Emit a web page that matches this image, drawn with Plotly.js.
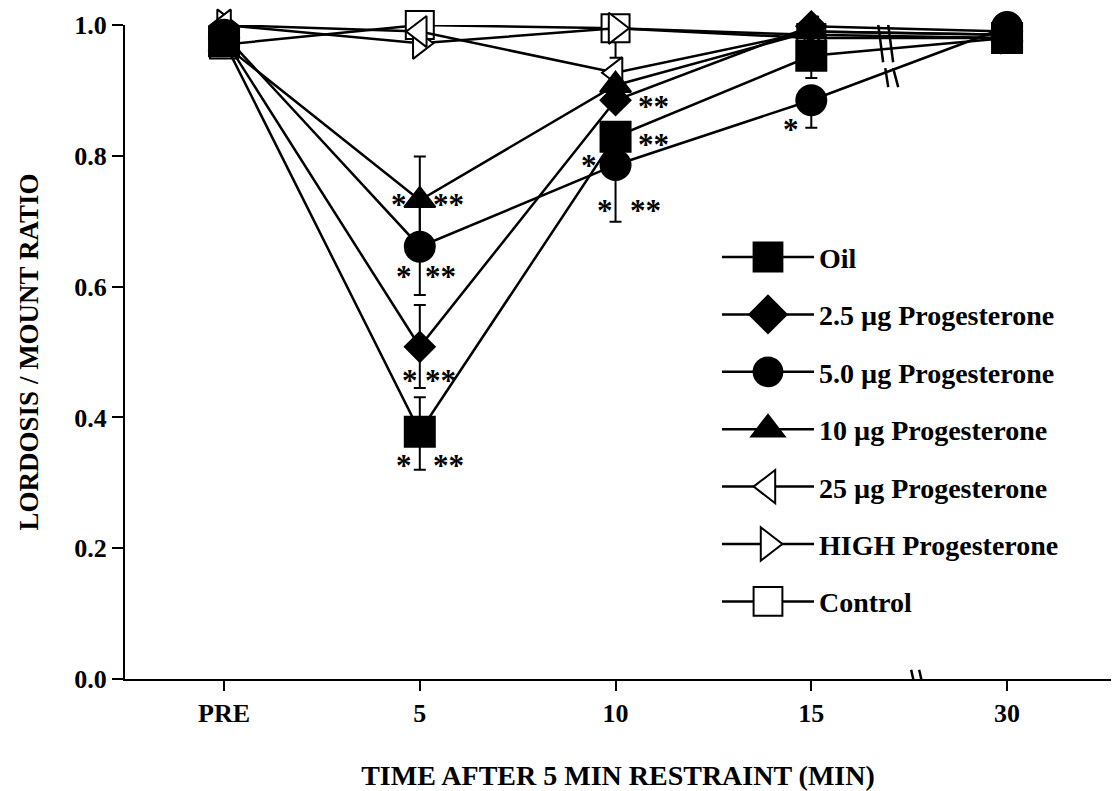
<!DOCTYPE html>
<html>
<head>
<meta charset="utf-8">
<script src="https://cdn.plot.ly/plotly-3.0.1.min.js"></script>
<style>html,body{margin:0;padding:0;background:#fff;}#chart{width:1120px;height:791px;}</style>
</head>
<body>
<div id="chart"></div>
<script>
// ---- data ----
const categories = ['PRE', '5', '10', '15', '30'];
const seriesNames = ['Oil', '2.5 µg Progesterone', '5.0 µg Progesterone', '10 µg Progesterone',
  '25 µg Progesterone', 'HIGH Progesterone', 'Control'];
const oil      = [0.975, 0.378, 0.829, 0.953, 0.980];
const prog2_5  = [0.980, 0.508, 0.885, 0.998, 0.990];
const prog5_0  = [0.985, 0.661, 0.786, 0.885, 0.997];
const prog10   = [0.970, 0.732, 0.908, 0.990, 0.985];
const prog25   = [1.000, 0.990, 0.927, 0.990, 0.985];
const progHigh = [1.000, 0.972, 0.995, 0.985, 0.980];
const control  = [0.970, 1.000, 0.995, 0.980, 0.980];
// standard errors (upper / lower)
const oilErrUp      = [null, 0.053, null, null, null];
const oilErrDown    = [null, 0.058, null, 0.034, null];
const prog2_5ErrUp  = [null, 0.064, null, null, null];
const prog2_5ErrDown= [null, 0.063, null, null, null];
const prog5_0ErrUp  = [null, 0.074, null, null, null];
const prog5_0ErrDown= [null, 0.074, 0.087, 0.042, null];
const prog10ErrUp   = [null, 0.067, null, null, null];
const prog10ErrDown = [null, 0.067, null, null, null];
const controlErrUp  = [null, null, null, null, null];
const controlErrDown= [null, null, 0.045, null, null];
// significance markers: category, y value, text, horizontal offset
const starCat  = ['5', '5', '5', '5', '5', '5', '5', '5', '10', '10', '10', '10', '10', '15'];
const starY    = [0.732, 0.732, 0.622, 0.622, 0.463, 0.463, 0.332, 0.332, 0.792, 0.824, 0.881, 0.723, 0.723, 0.846];
const starText = ['*', '**', '*', '**', '*', '**', '*', '**', '*', '**', '**', '*', '**', '*'];
const starDx   = [-21, 29, -16, 21, -10, 21, -16, 29, -27, 38, 38, -11, 30, -20];

const FONT = 'Liberation Serif, Times New Roman, serif';
const black = '#000';

function mk(name, y, symbol, filled, size, rank, eUp, eDown) {
  const t = {
    type: 'scatter', mode: 'lines+markers', name: name, x: categories, y: y,
    legendgroup: 'g' + rank, legendrank: rank,
    line: {color: black, width: 2.5},
    marker: {symbol: symbol, size: size, color: filled ? black : '#fff',
             line: {color: black, width: 2}},
    cliponaxis: false
  };
  if (eUp) {
    t.error_y = {type: 'data', symmetric: false, array: eUp, arrayminus: eDown,
                 color: black, thickness: 2, width: 6};
  }
  return t;
}

const traces = [
  mk(seriesNames[6], control, 'square', false, 28, 7, controlErrUp, controlErrDown),
  mk(seriesNames[5], progHigh, 'triangle-right', false, 27, 6),
  mk(seriesNames[4], prog25, 'triangle-left', false, 27, 5),
  mk(seriesNames[3], prog10, 'triangle-up', true, 27, 4, prog10ErrUp, prog10ErrDown),
  mk(seriesNames[2], prog5_0, 'circle', true, 30, 3, prog5_0ErrUp, prog5_0ErrDown),
  mk(seriesNames[1], prog2_5, 'diamond', true, 23, 2, prog2_5ErrUp, prog2_5ErrDown),
  mk(seriesNames[0], oil, 'square', true, 30, 1, oilErrUp, oilErrDown)
];

const annotations = starCat.map((c, i) => ({
  x: categories.indexOf(c), y: starY[i], xref: 'x', yref: 'y', text: starText[i], showarrow: false,
  xshift: starDx[i], yshift: -4,
  font: {family: FONT, size: 31, color: black, weight: 'bold'}
}));

// axis-break marks
const brk = (x0, y0, x1, y1) => ({type: 'line', xref: 'x', yref: 'y', x0: x0, y0: y0, x1: x1, y1: y1,
  line: {color: black, width: 2.5}});
const shapes = [
  brk(3.510, 0.014, 3.536, -0.020), brk(3.551, 0.014, 3.577, -0.020),
  brk(3.337, 1.012, 3.367, 0.943), brk(3.388, 1.012, 3.418, 0.943),
  brk(3.378, 0.934, 3.393, 0.905), brk(3.418, 0.934, 3.444, 0.905)
];

const layout = {
  width: 1120, height: 791,
  margin: {l: 125, r: 9, t: 25, b: 112},
  paper_bgcolor: '#fff', plot_bgcolor: '#fff',
  font: {family: FONT, size: 26, color: black, weight: 'bold'},
  showlegend: true,
  legend: {x: 0.6004, xanchor: 'left', y: 0.683, yanchor: 'top',
           font: {family: FONT, size: 28, color: black, weight: 'bold'},
           itemwidth: 92, tracegroupgap: 18, bgcolor: 'rgba(0,0,0,0)', borderwidth: 0},
  xaxis: {
    type: 'category', range: [-0.506, 4.531], fixedrange: true,
    showline: true, linecolor: black, linewidth: 2, mirror: false,
    ticks: 'outside', ticklen: 10, tickwidth: 2, tickcolor: black,
    showgrid: false, zeroline: false,
    tickfont: {family: FONT, size: 26, color: black, weight: 'bold'},
    title: {text: 'TIME AFTER 5 MIN RESTRAINT (MIN)', standoff: 40,
            font: {family: FONT, size: 28, color: black, weight: 'bold'}}
  },
  yaxis: {
    range: [0, 1], dtick: 0.2, tick0: 0, tickformat: '.1f', fixedrange: true,
    showline: true, linecolor: black, linewidth: 2,
    ticks: 'outside', ticklen: 11, tickwidth: 2, tickcolor: black,
    showgrid: false, zeroline: false,
    tickfont: {family: FONT, size: 26, color: black, weight: 'bold'},
    title: {text: 'LORDOSIS / MOUNT RATIO', standoff: 28,
            font: {family: FONT, size: 27, color: black, weight: 'bold'}}
  },
  annotations: annotations,
  shapes: shapes
};

Plotly.newPlot('chart', traces, layout, {staticPlot: true, displayModeBar: false}).then(gd => {
  // enlarge legend symbols to the size used in the plot
  const k = 1.8;
  gd.querySelectorAll('.legend .legendpoints path.scatterpts').forEach(p => {
    const tr = p.getAttribute('transform') || '';
    p.setAttribute('transform', tr + ' scale(' + k + ')');
    p.style.strokeWidth = (2 / k) + 'px';
  });
});
</script>
</body>
</html>
